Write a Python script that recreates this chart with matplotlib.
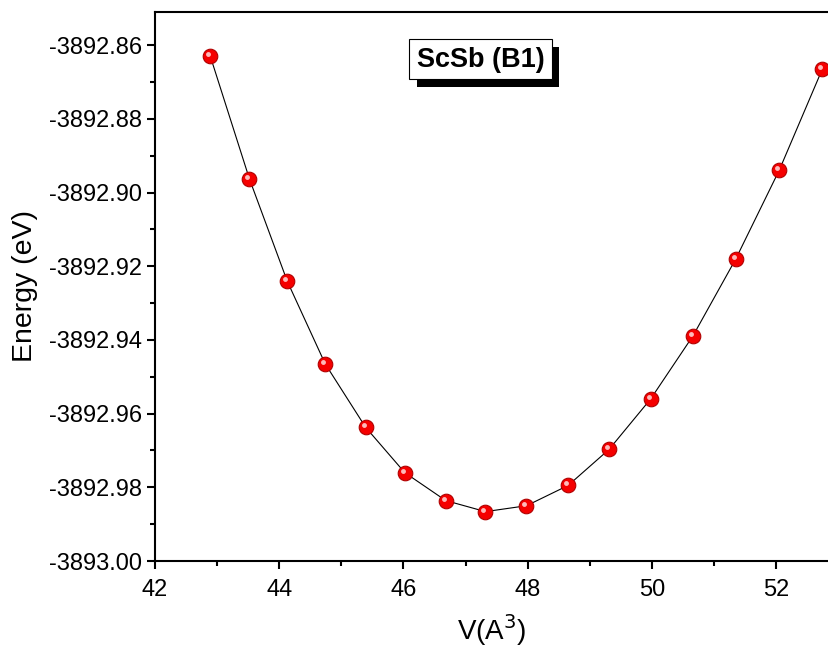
import numpy as np
import matplotlib
matplotlib.use('Agg')
import matplotlib.pyplot as plt
import matplotlib.transforms as mtransforms
from matplotlib.patches import Rectangle

plt.rcParams['font.family'] = ['Liberation Sans', 'DejaVu Sans']

# volume (A^3) and total energy (eV)
volume = [42.89, 43.52, 44.13, 44.74, 45.39, 46.02, 46.68, 47.32,
          47.98, 48.65, 49.31, 49.98, 50.66, 51.35, 52.05, 52.74]
energy = [-3892.8630, -3892.8963, -3892.9241, -3892.9465, -3892.9637,
          -3892.9760, -3892.9836, -3892.9866, -3892.9850, -3892.9795,
          -3892.9697, -3892.9560, -3892.9389, -3892.9180, -3892.8939,
          -3892.8666]

fig = plt.figure(figsize=(8.29, 6.52), dpi=100)
ax = fig.add_axes([155/829, 1-561/652, 1-155/829, (561-12)/652])

ax.plot(volume, energy, color='black', lw=0.8, zorder=2)
ax.plot(volume, energy, 'o', ms=10.5, mfc='#f50000', mec='#b00000', mew=0.8,
        zorder=3, clip_on=False)
# little highlight to look like a sphere
hl = mtransforms.offset_copy(ax.transData, fig, x=-2, y=2, units='dots')
ax.plot(volume, energy, 'o', ms=3.5, mfc='#ffd0d0', mec='none', alpha=0.9,
        transform=hl, zorder=4, clip_on=False)

ax.set_xlim(42, 52.85)
ax.set_ylim(-3893.00, -3892.851)
ax.set_xticks(np.arange(42, 53, 2))
ax.set_xticks(np.arange(43, 53, 2), minor=True)
yt = np.arange(-3893.00, -3892.855, 0.02)
ax.set_yticks(yt)
ax.set_yticks(np.arange(-3892.99, -3892.85, 0.02), minor=True)
ax.set_yticklabels([f'{v:.2f}' for v in yt])

ax.spines['right'].set_visible(False)
for s in ['left', 'bottom', 'top']:
    ax.spines[s].set_linewidth(1.5)
ax.tick_params(which='major', direction='out', length=6, width=1.5,
               labelsize=17, top=False, right=False)
ax.tick_params(axis='x', which='major', pad=7)
ax.tick_params(which='minor', direction='out', length=3.5, width=1.5,
               top=False, right=False)

ax.set_xlabel('V(A$^3$)', fontsize=20, labelpad=8)
ax.set_ylabel('Energy (eV)', fontsize=20.5, labelpad=8)

# title box with shadow
W, H = 829, 652
fig.patches.append(Rectangle((417/W, 1-87/H), (559-417)/W, (87-47)/H,
                             transform=fig.transFigure, fc='black', ec='none', zorder=5))
fig.patches.append(Rectangle((409/W, 1-79/H), (552-409)/W, (79-39)/H,
                             transform=fig.transFigure, fc='white', ec='black', lw=0.8, zorder=6))
fig.text(481/W, 1-60/H, 'ScSb (B1)', fontsize=19.5, fontweight='bold',
         ha='center', va='center', zorder=7)

fig.savefig('out.png', dpi=100)
